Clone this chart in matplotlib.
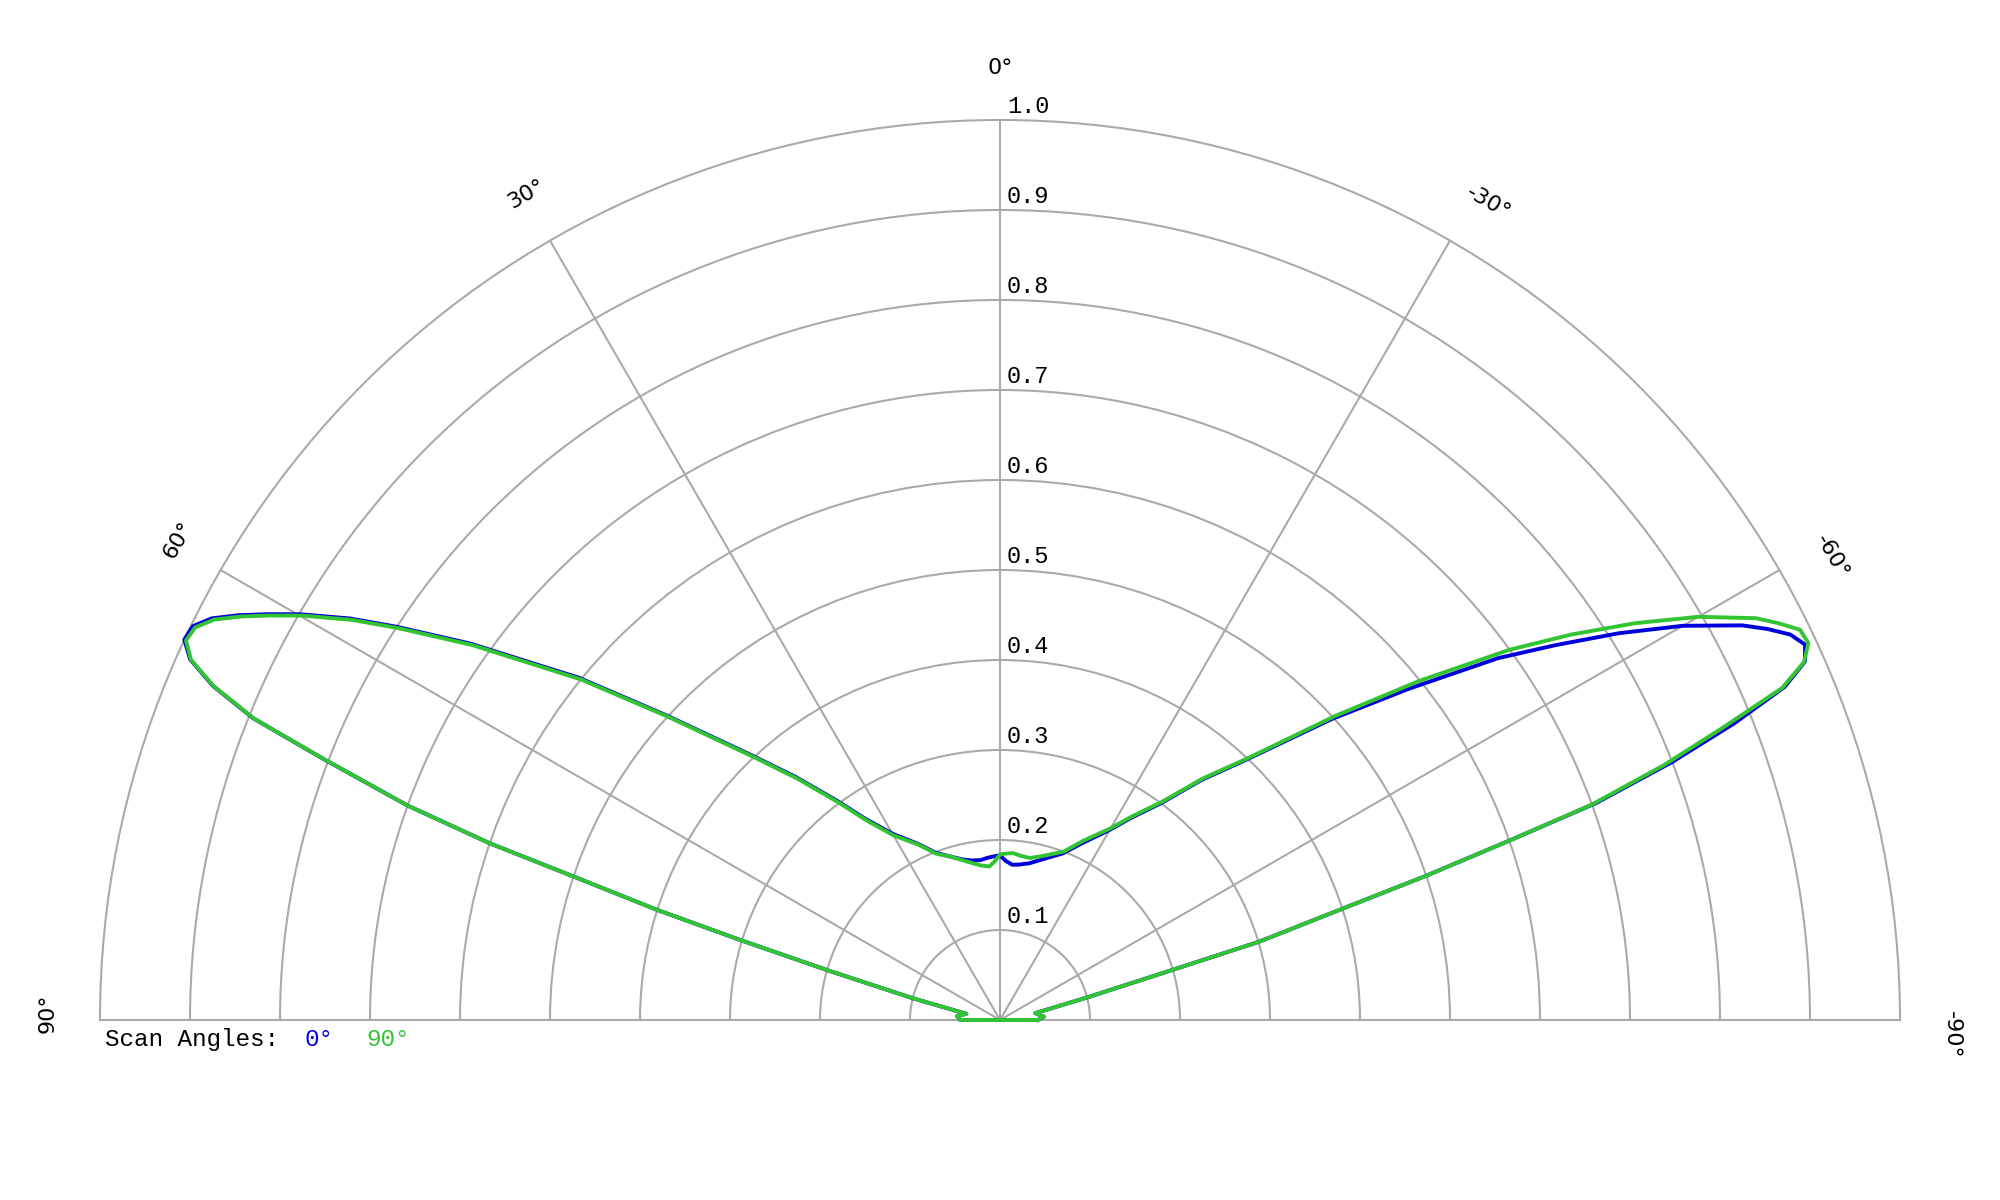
import numpy as np
import matplotlib
matplotlib.use("Agg")
import matplotlib.pyplot as plt

# digitised pattern cuts (degrees, positive = left of broadside)
theta_deg = [-90, -85.7, -79, -75.5, -73.8, -73.2, -72.0, -71.3, -70.6, -70.0,
             -69.0, -68.0, -67.0, -66.0, -65.0, -64.0, -63.0, -62.0, -60.0, -58.0,
             -56.0, -54.0, -51.0, -47.8, -43.4, -40.0, -36.6, -33.0, -30.0, -25.0,
             -20.7, -15.0, -10.5, -7.0, -4.5, -2.0,
             0, 2, 4, 7, 10, 13, 17, 21, 25, 30,
             33.8, 36.5, 40, 43.1, 47.6, 50.9, 54.6, 56.9, 58.3, 59.9,
             61.0, 62.0, 63.0, 64.0, 65.0, 66.0, 67.0, 68.0, 68.9, 70.1,
             70.9, 71.4, 72.2, 72.9, 73.9, 76.0, 79.5, 84.7, 90]

r_scan0 = [0.042, 0.049, 0.040, 0.10, 0.20, 0.30, 0.40, 0.50, 0.60, 0.705,
           0.80, 0.88, 0.947, 0.979, 0.987, 0.977, 0.957, 0.934, 0.876, 0.811,
           0.745, 0.684, 0.585, 0.498, 0.398, 0.348, 0.30, 0.268, 0.244, 0.217,
           0.198, 0.185, 0.177, 0.174, 0.173, 0.177,
           0.183, 0.182, 0.181, 0.179, 0.180, 0.183, 0.19, 0.199, 0.216, 0.239,
           0.269, 0.302, 0.352, 0.402, 0.502, 0.603, 0.722, 0.80, 0.849, 0.899,
           0.93, 0.958, 0.983, 0.998, 1.0, 0.985, 0.95, 0.895, 0.806, 0.70,
           0.60, 0.50, 0.40, 0.30, 0.20, 0.10, 0.038, 0.048, 0.044]

r_scan90 = [0.042, 0.049, 0.040, 0.10, 0.20, 0.30, 0.40, 0.50, 0.60, 0.70,
            0.79, 0.865, 0.944, 0.978, 0.991, 0.989, 0.971, 0.951, 0.896, 0.832,
            0.766, 0.70, 0.598, 0.503, 0.40, 0.35, 0.302, 0.27, 0.246, 0.22,
            0.200, 0.189, 0.183, 0.184, 0.186, 0.185,
            0.184, 0.176, 0.171, 0.173, 0.177, 0.182, 0.19, 0.198, 0.215, 0.237,
            0.267, 0.30, 0.35, 0.40, 0.50, 0.60, 0.719, 0.797, 0.846, 0.896,
            0.927, 0.955, 0.98, 0.995, 0.998, 0.984, 0.949, 0.894, 0.805, 0.70,
            0.60, 0.50, 0.40, 0.30, 0.20, 0.10, 0.038, 0.048, 0.044]

scan_labels = ["0°", "90°"]
scan_colors = ["#0000dd", "#33c433"]
angle_ticks = [0, 30, 60, 90, -30, -60, -90]
ring_values = [0.1, 0.2, 0.3, 0.4, 0.5, 0.6, 0.7, 0.8, 0.9, 1.0]

GRID = "#aaaaaa"
MONO = "Liberation Mono"

fig = plt.figure(figsize=(20, 12), dpi=100)
# square polar box: the half disc sits a quarter up from its bottom edge,
# so the pole lands at (1000, 1020) px with a 900 px radius
ax = fig.add_axes([0.05, -0.225, 0.9, 1.5], projection="polar")
ax.set_theta_zero_location("N")
ax.set_theta_direction(1)
ax.set_thetamin(-90)
ax.set_thetamax(90)
ax.set_ylim(0, 1)

ax.set_xticks(np.deg2rad([-60, -30, 0, 30, 60]))
ax.set_xticklabels([])
ax.set_yticks(ring_values[:-1])
ax.set_yticklabels([])
ax.tick_params(length=0)
ax.grid(True, color=GRID, linewidth=1.5)
for sp in ax.spines.values():
    sp.set_color(GRID)
    sp.set_linewidth(1.5)

# curves, closed across the baseline
th = np.deg2rad(theta_deg + [theta_deg[0]])
for r, col in zip([r_scan0, r_scan90], scan_colors):
    ax.plot(th, r + [r[0]], color=col, linewidth=2.8, clip_on=False, zorder=3,
            solid_joinstyle="round")

# angle labels round the rim
label_shift = {0: 0, 30: -0.2, 60: -0.3, 90: -0.4, -30: -0.85, -60: -0.9, -90: -0.9}
for a in angle_ticks:
    ax.text(np.deg2rad(a + label_shift[a]), 1.058, f"{a}°", rotation=a,
            rotation_mode="anchor", ha="center", va="center",
            fontsize=16, family="DejaVu Sans")

# ring values along the 0° spoke
for v in ring_values:
    ax.annotate(f"{v:.1f}", xy=(0, v), xytext=(7, 7), textcoords="offset pixels",
                ha="left", va="baseline", fontsize=17, family=MONO)

# legend line under the baseline
y_leg = 1 - 1046 / 1200
fig.text(105 / 2000, y_leg, "Scan Angles:", fontsize=17.5, family=MONO,
         ha="left", va="baseline")
fig.text(305 / 2000, y_leg, scan_labels[0], fontsize=17.5, family=MONO,
         color=scan_colors[0], ha="left", va="baseline")
fig.text(366 / 2000, y_leg, scan_labels[1], fontsize=17.5, family=MONO,
         color=scan_colors[1], ha="left", va="baseline")

fig.savefig("out.png", dpi=100)
plt.close(fig)
